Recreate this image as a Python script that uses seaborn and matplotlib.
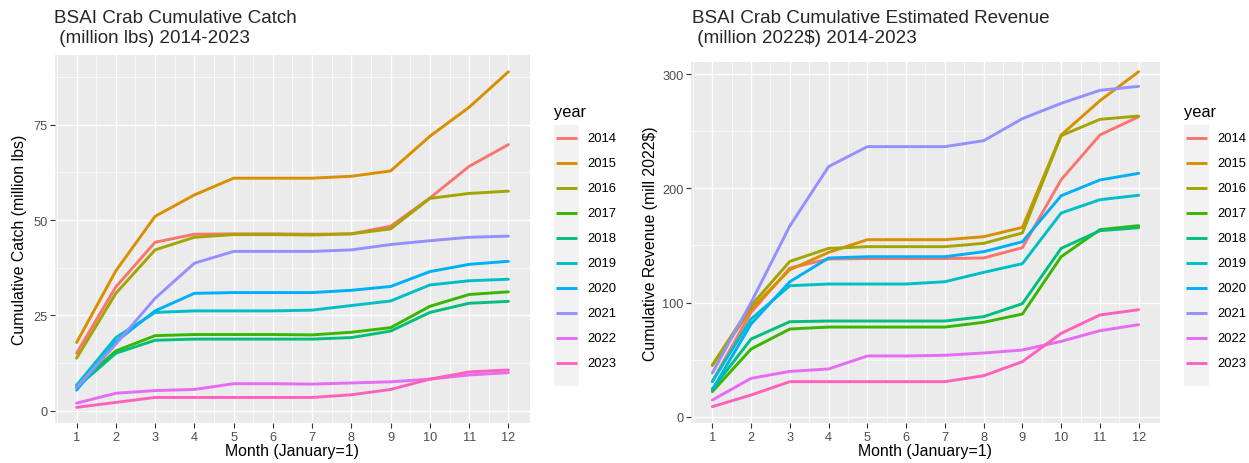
import matplotlib
matplotlib.use("Agg")
import matplotlib.pyplot as plt
from matplotlib.lines import Line2D
from matplotlib.patches import Rectangle
import numpy as np
import pandas as pd
import seaborn as sns

months = list(range(1, 13))
years = [2014, 2015, 2016, 2017, 2018, 2019, 2020, 2021, 2022, 2023]

# Cumulative catch, million lbs (rows follow `years`, columns follow `months`)
catch_mlbs = [
    [15.1, 32.5, 44.2, 46.3, 46.4, 46.4, 46.3, 46.4, 48.4, 55.8, 64.1, 69.8],
    [17.9, 36.7, 51.0, 56.6, 61.0, 61.0, 61.0, 61.5, 62.9, 72.0, 79.6, 88.9],
    [13.8, 30.8, 42.2, 45.5, 46.2, 46.2, 46.1, 46.4, 47.7, 55.7, 57.0, 57.6],
    [6.6, 15.7, 19.7, 20.0, 20.0, 20.0, 19.9, 20.6, 21.8, 27.4, 30.5, 31.2],
    [6.1, 15.1, 18.5, 18.8, 18.8, 18.8, 18.8, 19.2, 20.9, 25.8, 28.2, 28.7],
    [6.7, 19.2, 25.8, 26.2, 26.2, 26.2, 26.4, 27.6, 28.8, 33.0, 34.1, 34.5],
    [5.4, 18.1, 26.2, 30.8, 31.0, 31.0, 31.0, 31.6, 32.6, 36.5, 38.4, 39.2],
    [6.1, 17.5, 29.5, 38.7, 41.8, 41.8, 41.8, 42.2, 43.6, 44.6, 45.5, 45.8],
    [2.0, 4.6, 5.3, 5.6, 7.1, 7.1, 7.0, 7.3, 7.6, 8.3, 9.4, 10.0],
    [0.9, 2.2, 3.5, 3.5, 3.5, 3.5, 3.5, 4.2, 5.6, 8.3, 10.2, 10.7],
]

# Cumulative estimated revenue, million 2022$
revenue_m2022 = [
    [31.0, 91.4, 130.2, 138.1, 138.5, 138.5, 138.5, 139.0, 148.0, 207.5, 246.7, 262.7],
    [44.7, 94.3, 128.7, 143.9, 155.0, 155.0, 155.0, 157.6, 165.8, 246.7, 276.7, 302.1],
    [45.3, 97.2, 136.0, 147.4, 148.9, 148.9, 148.9, 151.8, 160.9, 246.1, 260.4, 263.3],
    [21.9, 59.3, 76.8, 78.5, 78.5, 78.5, 78.5, 82.7, 89.9, 140.1, 163.8, 167.3],
    [24.3, 68.0, 83.2, 83.8, 83.8, 83.8, 83.8, 87.6, 99.0, 147.4, 162.9, 165.5],
    [30.7, 85.6, 114.7, 116.2, 116.2, 116.2, 118.2, 126.4, 134.0, 178.4, 190.0, 193.9],
    [23.6, 81.2, 118.2, 139.0, 140.1, 140.1, 140.1, 144.5, 153.2, 193.5, 207.3, 213.1],
    [38.3, 100.0, 167.0, 219.0, 236.5, 236.5, 236.5, 241.7, 261.0, 274.4, 285.8, 289.3],
    [14.6, 33.6, 39.7, 41.8, 53.2, 53.2, 53.8, 55.8, 58.4, 66.0, 75.3, 80.6],
    [8.8, 19.0, 30.7, 30.7, 30.7, 30.7, 30.7, 35.9, 48.2, 73.0, 89.1, 93.7],
]

catch_ticks = [0, 25, 50, 75]
revenue_ticks = [0, 100, 200, 300]

# ggplot2 default hue palette for 10 levels
year_colors = ["#F8766D", "#D89000", "#A3A500", "#39B600", "#00BF7D",
               "#00BFC4", "#00B0F6", "#9590FF", "#E76BF3", "#FF62BC"]


def to_long(table, name):
    rows = []
    for yr, vals in zip(years, table):
        for m, v in zip(months, vals):
            rows.append({"month": m, "year": str(yr), name: v})
    return pd.DataFrame(rows)


df_catch = to_long(catch_mlbs, "catch")
df_rev = to_long(revenue_m2022, "revenue")

sns.set_theme(style="darkgrid")
plt.rcParams["font.family"] = ["Liberation Sans", "DejaVu Sans"]

W, H = 1249, 464
fig = plt.figure(figsize=(W / 100, H / 100), dpi=100)


def px_axes(x0, y0, x1, y1):
    return fig.add_axes([x0 / W, 1 - y1 / H, (x1 - x0) / W, (y1 - y0) / H])


ax1 = px_axes(55, 56, 530, 424)
ax2 = px_axes(691, 63, 1160, 424)

palette = dict(zip([str(y) for y in years], year_colors))


def style_axes(ax, yticks, ylim):
    ax.set_facecolor("#EBEBEB")
    ax.set_xticks(months)
    ax.set_xticks([m + 0.5 for m in months[:-1]] + [0.5], minor=True)
    ax.set_yticks(yticks)
    minor_y = [(a + b) / 2 for a, b in zip(yticks[:-1], yticks[1:])]
    minor_y.append(yticks[-1] + (yticks[1] - yticks[0]) / 2)
    ax.set_yticks(minor_y, minor=True)
    ax.set_yticklabels([str(t) for t in yticks])
    # limits last, so the tick setters above cannot widen the view
    ax.set_xlim(0.45, 12.55)
    ax.set_ylim(*ylim)
    ax.grid(which="major", color="white", linewidth=1.0)
    ax.grid(which="minor", color="white", linewidth=0.5)
    ax.set_axisbelow(True)
    for s in ax.spines.values():
        s.set_visible(False)
    ax.tick_params(which="major", length=3.5, width=0.8, color="#333333",
                   labelcolor="#4D4D4D", labelsize=9.2, pad=2,
                   bottom=True, left=True)
    ax.tick_params(which="minor", length=0, bottom=False, left=False)
    ax.set_xlabel("Month (January=1)", fontsize=11.4, color="black")
    ax.xaxis.set_label_coords(0.5, -0.076)
    ax.xaxis.label.set_va("center")


sns.lineplot(data=df_catch, x="month", y="catch", hue="year", palette=palette,
             linewidth=2.1, ax=ax1, legend=False)
sns.lineplot(data=df_rev, x="month", y="revenue", hue="year", palette=palette,
             linewidth=2.1, ax=ax2, legend=False)

style_axes(ax1, catch_ticks, (-3.2, 93.3))
style_axes(ax2, revenue_ticks, (-5.5, 310.6))

ax1.set_ylabel("Cumulative Catch (million lbs)", fontsize=11.4, color="black")
ax1.yaxis.set_label_coords(-0.0737, 0.5)
ax1.yaxis.label.set_va("center")
ax2.set_ylabel("Cumulative Revenue (mill 2022$)", fontsize=11.4, color="black")
ax2.yaxis.set_label_coords(-0.0853, 0.5)
ax2.yaxis.label.set_va("center")


# Two-line titles, each line on its own baseline
def draw_title(x_px, line1, line2):
    fig.text(x_px / W, 1 - 23.3 / H, line1, ha="left", va="baseline",
             fontsize=13.6)
    fig.text(x_px / W, 1 - 43.3 / H, line2, ha="left", va="baseline",
             fontsize=13.6)


draw_title(54, "BSAI Crab Cumulative Catch", " (million lbs) 2014-2023")
draw_title(692, "BSAI Crab Cumulative Estimated Revenue", " (million 2022$) 2014-2023")


# Legends
def draw_legend(key_x0):
    fig.text(key_x0 / W, 1 - 112 / H, "year", ha="left", va="center",
             fontsize=11.8, color="black")
    fig.add_artist(Rectangle((key_x0 / W, 1 - 387 / H), 25 / W, 261 / H,
                             transform=fig.transFigure, facecolor="#F2F2F2",
                             edgecolor="none"))
    for i, (yr, c) in enumerate(zip(years, year_colors)):
        yy = 1 - (139 + 25 * i) / H
        fig.add_artist(Line2D([(key_x0 + 2) / W, (key_x0 + 23) / W], [yy, yy],
                              transform=fig.transFigure, color=c, linewidth=2.1,
                              solid_capstyle="butt"))
        fig.text((key_x0 + 33) / W, yy, str(yr), ha="left", va="center",
                 fontsize=9.4, color="black")


draw_legend(554)
draw_legend(1184)

fig.savefig("out.png", dpi=100, facecolor="white")
